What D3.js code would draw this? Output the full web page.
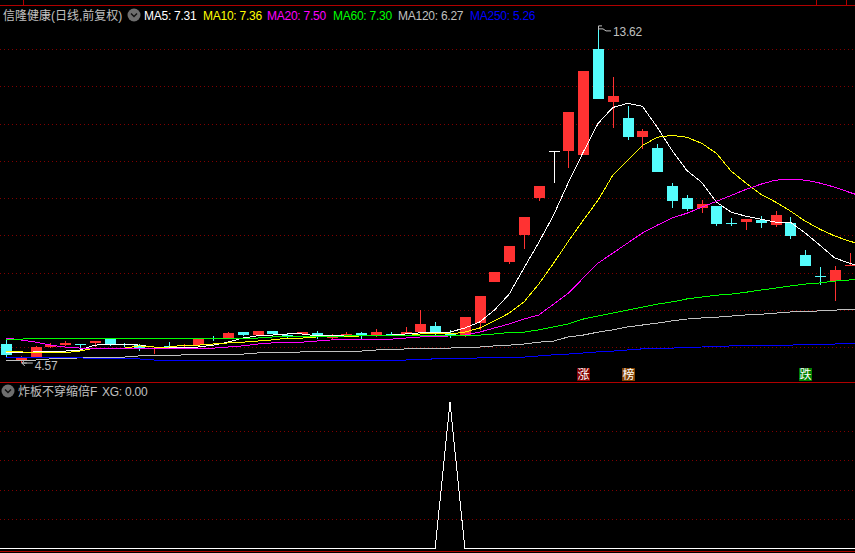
<!DOCTYPE html>
<html><head><meta charset="utf-8">
<script src="https://cdn.jsdelivr.net/npm/d3@7/dist/d3.min.js"></script>
<style>
html,body{margin:0;padding:0;background:#000;overflow:hidden}
svg{display:block}
text{font-family:"Liberation Sans","Noto Sans CJK SC",sans-serif}
</style></head><body><svg id="c" width="855" height="553"></svg>
<script>
const opens=[5.08,4.65,4.73,5.00,5.05,5.08,5.11,5.21,5.08,5.05,4.95,5.03,5.03,5.05,5.24,5.24,5.40,5.32,5.43,5.32,5.35,5.38,5.27,5.31,5.38,5.32,5.36,5.35,5.40,5.56,5.36,5.30,5.64,6.74,7.28,8.00,8.99,10.25,10.25,10.15,13.00,11.59,11.14,10.63,10.33,9.32,8.99,8.73,8.78,8.33,8.35,8.40,8.27,8.32,7.47,6.91,6.77,7.19];
const closes=[4.79,4.71,5.00,5.05,5.11,5.05,5.16,5.08,5.05,4.95,4.97,5.00,5.05,5.21,5.22,5.38,5.32,5.43,5.35,5.27,5.40,5.30,5.28,5.35,5.32,5.40,5.35,5.40,5.62,5.35,5.35,5.80,6.37,7.01,7.71,8.48,9.32,10.25,11.30,12.42,11.67,11.73,10.63,10.79,9.69,8.91,8.70,8.83,8.30,8.31,8.43,8.32,8.54,7.98,7.17,6.89,7.06,7.21];
const highs=[5.24,4.76,5.03,5.11,5.16,5.08,5.16,5.24,5.11,5.08,4.97,5.13,5.08,5.24,5.30,5.40,5.40,5.43,5.43,5.38,5.40,5.43,5.35,5.40,5.40,5.48,5.40,5.54,6.00,5.67,5.46,5.80,6.37,7.01,7.71,8.48,9.32,10.25,11.30,12.42,13.62,12.24,11.46,10.84,10.44,9.40,9.07,8.94,8.78,8.46,8.43,8.51,8.65,8.48,7.60,7.14,7.17,7.52];
const lows=[4.71,4.57,4.71,4.97,5.03,4.97,5.00,5.03,5.00,4.89,4.81,5.00,5.00,5.05,5.16,5.24,5.30,5.32,5.35,5.21,5.32,5.21,5.19,5.31,5.21,5.27,5.32,5.35,5.40,5.30,5.24,5.27,5.46,6.74,7.22,7.63,8.91,9.40,9.80,10.15,11.67,10.87,10.55,10.31,9.69,8.73,8.65,8.59,8.24,8.24,8.14,8.19,8.22,7.89,7.17,6.66,6.23,7.17];
const ma5=[4.84,4.84,4.87,4.88,4.89,4.92,5.05,5.07,5.08,5.05,5.00,5.00,5.00,5.00,5.05,5.13,5.24,5.30,5.32,5.35,5.35,5.30,5.30,5.30,5.30,5.32,5.32,5.35,5.38,5.40,5.40,5.51,5.67,5.99,6.42,7.12,7.81,8.54,9.42,10.23,11.00,11.43,11.54,11.46,10.90,10.28,9.74,9.42,8.89,8.62,8.51,8.43,8.35,8.35,8.06,7.73,7.39,7.25,7.12];
const ma10=[4.87,4.87,4.84,4.85,4.85,4.89,4.97,4.97,4.97,5.03,5.00,5.00,5.05,5.05,5.08,5.11,5.13,5.16,5.19,5.24,5.24,5.27,5.27,5.27,5.30,5.30,5.30,5.30,5.35,5.35,5.35,5.40,5.51,5.70,5.91,6.21,6.69,7.25,7.84,8.40,8.94,9.61,10.01,10.41,10.63,10.68,10.63,10.47,10.20,9.72,9.40,9.10,8.89,8.65,8.38,8.16,7.98,7.84,7.73];
const ma20=[5.24,5.19,5.13,5.05,5.00,4.97,4.95,4.95,4.95,4.95,4.95,4.95,4.95,4.95,4.97,5.00,5.03,5.08,5.11,5.11,5.13,5.16,5.19,5.19,5.19,5.21,5.21,5.24,5.27,5.27,5.30,5.32,5.40,5.51,5.62,5.75,5.86,6.15,6.45,6.85,7.25,7.52,7.79,8.06,8.27,8.46,8.59,8.75,8.91,9.07,9.23,9.37,9.48,9.50,9.48,9.40,9.29,9.15,9.02];
const ma60=[5.21,5.21,5.24,5.24,5.24,5.24,5.24,5.24,5.24,5.24,5.24,5.24,5.24,5.24,5.24,5.24,5.24,5.24,5.27,5.27,5.27,5.27,5.27,5.30,5.30,5.30,5.30,5.30,5.30,5.30,5.30,5.30,5.32,5.35,5.39,5.40,5.46,5.54,5.62,5.75,5.83,5.91,5.99,6.07,6.15,6.21,6.29,6.34,6.39,6.42,6.47,6.53,6.58,6.64,6.69,6.72,6.77,6.80,6.85];
const ma120=[4.65,4.65,4.65,4.68,4.68,4.71,4.73,4.73,4.73,4.76,4.76,4.76,4.79,4.79,4.79,4.81,4.81,4.84,4.84,4.84,4.87,4.87,4.89,4.89,4.89,4.92,4.92,4.95,4.95,4.97,4.97,5.00,5.00,5.03,5.05,5.08,5.13,5.16,5.27,5.32,5.40,5.46,5.54,5.59,5.64,5.70,5.75,5.78,5.80,5.83,5.86,5.88,5.91,5.94,5.95,5.97,5.99,6.01,6.02];
const ma250=[4.71,4.71,4.71,4.71,4.71,4.71,4.68,4.68,4.68,4.68,4.65,4.65,4.65,4.65,4.65,4.65,4.65,4.63,4.63,4.63,4.63,4.63,4.63,4.63,4.63,4.65,4.65,4.65,4.67,4.68,4.68,4.68,4.71,4.71,4.73,4.73,4.76,4.79,4.81,4.84,4.87,4.89,4.92,4.95,4.96,4.97,4.99,5.00,5.01,5.03,5.03,5.04,5.05,5.05,5.07,5.08,5.08,5.09,5.11];
const xgValues=[0,0,0,0,0,0,0,0,0,0,0,0,0,0,0,0,0,0,0,0,0,0,0,0,0,0,0,0,0,0,1,0,0,0,0,0,0,0,0,0,0,0,0,0,0,0,0,0,0,0,0,0,0,0,0,0,0,0];
const priceGrid=[5,6,7,8,9,10,11,12,13];
const xgGrid=[0.2,0.4,0.6,0.8];
const maLegend=[["MA5: 7.31","#ffffff"],["MA10: 7.36","#ffff00"],["MA20: 7.50","#ff00ff"],["MA60: 7.30","#00ff00"],["MA120: 6.27","#c0c0c0"],["MA250: 5.26","#0000ff"]];
const maSeries=[[ma5,"#ffffff"],[ma10,"#ffff00"],[ma20,"#ff00ff"],[ma60,"#00ff00"],[ma120,"#c0c0c0"],[ma250,"#0000ff"]];
const badges=[[39,"涨","#800000"],[42,"榜","#804000"],[54,"跌","#008000"]];

const RED="#ff3232",CYAN="#54fcfc",GRAY="#c0c0c0",LINE="#b00000",GRID="#800000";
const svg=d3.select("#c");
svg.append("rect").attr("width",855).attr("height",553).attr("fill","#000");
const x=d3.scaleLinear().domain([0,57]).range([6,849.6]);
const y=d3.scaleLinear().domain([5,13]).range([347,49]);
const yx=d3.scaleLinear().domain([0,1]).range([548,402]);
const crisp=svg.append("g").attr("shape-rendering","crispEdges");

crisp.selectAll(".g1").data(priceGrid).join("line").attr("class","g1").attr("x1",0).attr("x2",855).attr("y1",d=>Math.round(y(d))+.5).attr("y2",d=>Math.round(y(d))+.5)
 .attr("stroke",GRID).attr("stroke-dasharray","1 3");
crisp.selectAll(".g2").data(xgGrid).join("line").attr("class","g2").attr("x1",0).attr("x2",855).attr("y1",d=>Math.round(yx(d))+.5).attr("y2",d=>Math.round(yx(d))+.5)
 .attr("stroke",GRID).attr("stroke-dasharray","1 3");

[5,382,551].forEach(v=>crisp.append("line").attr("x1",0).attr("x2",855).attr("y1",v+.5).attr("y2",v+.5).attr("stroke",LINE));
[[23,0,5],[816,0,5],[846,0,5]].forEach(a=>crisp.append("line").attr("x1",a[0]+.5).attr("x2",a[0]+.5).attr("y1",a[1]).attr("y2",a[2]).attr("stroke",LINE));

const col=i=>closes[i]>opens[i]?RED:closes[i]<opens[i]?CYAN:"#ffffff";
const idx=d3.range(opens.length);
crisp.selectAll(".w").data(idx).join("line").attr("class","w")
 .attr("x1",i=>Math.round(x(i))+.5).attr("x2",i=>Math.round(x(i))+.5)
 .attr("y1",i=>y(highs[i])).attr("y2",i=>y(lows[i])).attr("stroke",col);
crisp.selectAll(".b").data(idx).join("rect").attr("class","b")
 .attr("x",i=>Math.round(x(i))-5).attr("width",11)
 .attr("y",i=>y(Math.max(opens[i],closes[i])))
 .attr("height",i=>Math.max(1,Math.abs(y(opens[i])-y(closes[i]))))
 .attr("fill",col);

const line=d3.line().x((d,i)=>x(i)).y(d=>y(d));
maSeries.forEach(s=>crisp.append("path").attr("d",line(s[0])).attr("fill","none").attr("stroke",s[1]).attr("stroke-width",1));

const hi=d3.max(highs), lo=d3.min(lows);
const hx=x(highs.indexOf(hi)), lx=x(lows.indexOf(lo));
const mk=svg.append("g").attr("fill","none").attr("stroke",GRAY);
mk.append("path").attr("d",`M${hx+.5},${y(hi)+3}L${hx+5},${y(hi)+3}L${hx+8},${y(hi)+5}L${hx+13},${y(hi)+5}M${hx+.5},${y(hi)}H${hx+4}M${hx+.5},${y(hi)}V${y(hi)+4}`);
mk.append("path").attr("d",`M${lx+6},${y(lo)}L${lx+1},${y(lo)}L${lx+4},${y(lo)-3}M${lx+1},${y(lo)}L${lx+4},${y(lo)+3}M${lx+1},${y(lo)}H${lx+12}`);
svg.append("text").attr("x",hx+15).attr("y",y(hi)+10).attr("fill",GRAY).attr("font-size",12).attr("letter-spacing",-.2).text(d3.format(".2f")(hi));
svg.append("text").attr("x",lx+14).attr("y",y(lo)+6.5).attr("fill",GRAY).attr("font-size",12).attr("letter-spacing",-.2).text(d3.format(".2f")(lo));

badges.forEach(b=>{
 const bx=Math.round(x(b[0]))-6;
 crisp.append("rect").attr("x",bx).attr("y",368).attr("width",13).attr("height",13).attr("fill",b[2]);
 svg.append("text").attr("x",bx+6.5).attr("y",379).attr("text-anchor","middle").attr("fill","#fff").attr("font-size",12).attr("font-family","Noto Sans CJK SC").text(b[1]);
});

const lineX=d3.line().x((d,i)=>x(i)).y(d=>yx(d));
crisp.append("path").attr("d",lineX(xgValues)).attr("fill","none").attr("stroke","#fff").attr("stroke-width",1);
crisp.append("line").attr("x1",0).attr("x2",6).attr("y1",548).attr("y2",548).attr("stroke","#fff").attr("stroke-width",1);
crisp.append("line").attr("x1",849).attr("x2",855).attr("y1",548).attr("y2",548).attr("stroke","#fff").attr("stroke-width",1);

const icon=(cx,cy)=>{
 svg.append("circle").attr("cx",cx).attr("cy",cy).attr("r",6.5).attr("fill","#6e6e6e");
 svg.append("path").attr("d",`M${cx-3},${cy-1.5}L${cx},${cy+1.5}L${cx+3},${cy-1.5}`).attr("fill","none").attr("stroke","#111").attr("stroke-width",1.4);
};
svg.append("text").attr("x",3).attr("y",19.5).attr("fill",GRAY).attr("font-size",12).text("信隆健康(日线,前复权)");
icon(134,15);
const lx0=[144,203,267,333,398,470];
maLegend.forEach((m,i)=>svg.append("text").attr("x",lx0[i]).attr("y",19.5).attr("fill",m[1]).attr("font-size",12).attr("letter-spacing",-.25).text(m[0]));
icon(8,391);
svg.append("text").attr("x",18).attr("y",396).attr("fill",GRAY).attr("font-size",12).text("炸板不穿缩倍F");
svg.append("text").attr("x",102).attr("y",395.5).attr("fill",GRAY).attr("font-size",12).attr("letter-spacing",-.25).text("XG: 0.00");
</script></body></html>
